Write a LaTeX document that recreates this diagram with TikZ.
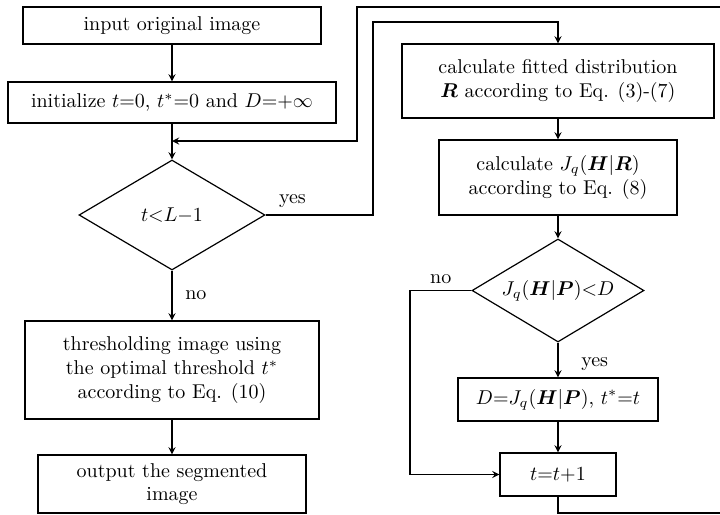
\documentclass[tikz,border=0pt]{standalone}
\usepackage{amsmath}
\usepackage{bm}
\usetikzlibrary{shapes.geometric}
\tikzset{
  box/.style={draw, semithick, rectangle, align=center, inner sep=2pt},
  decision/.style={draw, semithick, diamond, inner sep=0pt, aspect=1.67},
  flow/.style={->, >=stealth, semithick},
}
\begin{document}
\begin{tikzpicture}[x=1pt,y=1pt,font=\fontsize{10}{11.8}\selectfont]
\useasboundingbox (0,0) rectangle (360,-257.5);
\node[box, minimum width=149pt, minimum height=18.5pt] (input) at (86,-12.75) {input original image};
\node[box, minimum width=164pt, minimum height=20.5pt] (init) at (86,-51.25) {initialize $t$=0, $t^{*}$=0 and $D$=+$\infty$};
\node[decision, minimum width=93pt, minimum height=55pt] (cond) at (86,-107.5) {$t{<}L{-}1$};
\node[box, minimum width=147pt, minimum height=49pt] (thresh) at (86,-185) {thresholding image using\\the optimal threshold $t^{*}$\\according to Eq. (10)};
\node[box, minimum width=134pt, minimum height=29pt] (output) at (86,-242) {output the segmented\\image};
\node[box, minimum width=156pt, minimum height=37pt] (fit) at (279,-40.5) {calculate fitted distribution\\$\bm{R}$ according to Eq. (3)-(7)};
\node[box, minimum width=119pt, minimum height=37.5pt] (calcJ) at (279,-88.75) {calculate $J_q(\bm{H}|\bm{R})$\\according to Eq. (8)};
\node[decision, minimum width=86pt, minimum height=51.5pt] (cmp) at (279,-145.25) {$J_q(\bm{H}|\bm{P}){<}D$};
\node[box, minimum width=100pt, minimum height=21.5pt] (upd) at (279,-199.75) {$D{=}J_q(\bm{H}|\bm{P})$, $t^{*}{=}t$};
\node[box, minimum width=58pt, minimum height=21.5pt] (incr) at (279,-237.25) {$t{=}t{+}1$};
\coordinate (back) at (86,-70.5);

\draw[flow] (input) -- (init);
\draw[flow] (init) -- (cond);
\draw[flow] (cond) -- node[right, xshift=3pt]{no} (thresh);
\draw[flow] (thresh) -- (output);
\draw[flow] (cond.east) -- node[above, pos=0.25]{yes} (186.5,-107.5) |- (279,-11) -- (fit.north);
\draw[flow] (fit) -- (calcJ);
\draw[flow] (calcJ) -- (cmp);
\draw[flow] (cmp) -- node[right, xshift=8pt, yshift=-2pt]{yes} (upd);
\draw[flow] (cmp.west) -- node[above]{no} (205,-145.25) |- (incr.west);
\draw[flow] (upd) -- (incr);
\draw[flow] (incr.south) -- (279,-256.5) -- (366,-256.5) -- (366,-3.5) -- (178.5,-3.5) |- (back);
\end{tikzpicture}
\end{document}
